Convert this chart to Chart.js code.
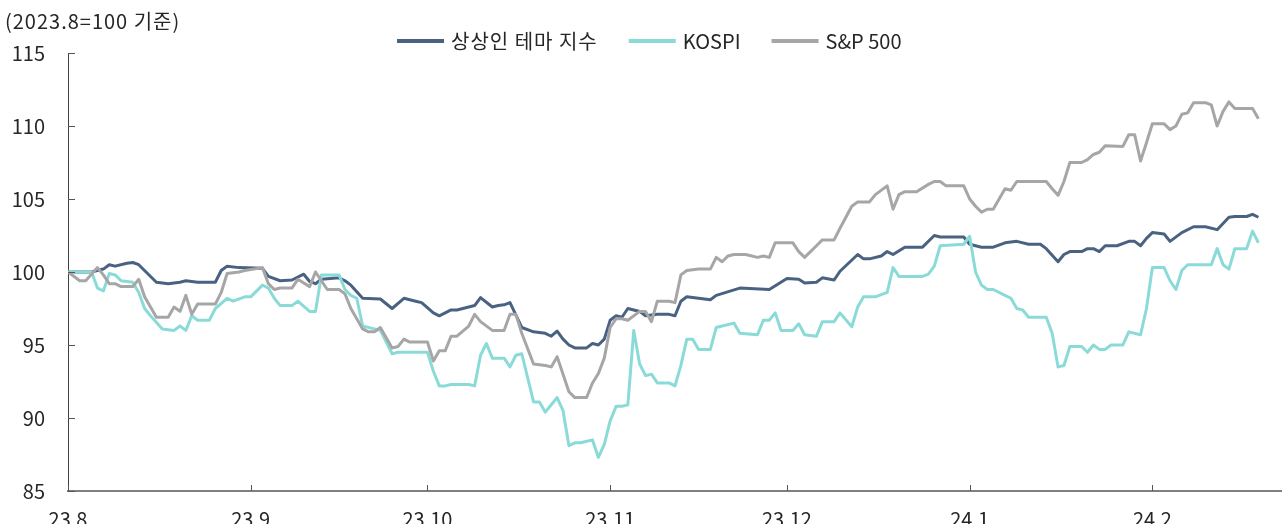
<!DOCTYPE html>
<html>
<head>
<meta charset="utf-8">
<script src="https://cdn.jsdelivr.net/npm/chart.js@4.4.1/dist/chart.umd.min.js"></script>
<style>
  html, body { margin: 0; padding: 0; background: #fff; }
</style>
</head>
<body>
<canvas id="chart" width="1282" height="526"></canvas>
<script>
const FONT = "'Noto Sans CJK KR', 'Noto Sans', sans-serif";

// x = days since 2023-08-01
const monthDays = [0, 31, 61, 92, 122, 153, 184];
const monthLabels = ["23.8", "23.9", "23.10", "23.11", "23.12", "24.1", "24.2"];
const yTicks = [85, 90, 95, 100, 105, 110, 115];

const themeDays = [0,4,6,7,8,10,11,12,15,17,19,20,22,25,26,27,29,33,34,36,38,40,41,42,43,46,47,48,50,53,55,57,59,60,62,63,64,65,66,68,69,70,72,73,74,75,77,79,81,82,83,84,85,86,88,89,90,91,92,93,94,95,97,98,100,102,103,104,105,109,110,114,119,122,124,125,127,128,130,131,134,135,136,138,139,140,142,145,147,148,152,153,155,157,159,161,163,165,166,168,169,170,172,173,174,175,176,178,180,181,182,183,184,186,187,189,191,193,195,197,198,200,201,202];
const themeVals = [100.0,100.0,100.2,100.5,100.4,100.6,100.65,100.5,99.3,99.2,99.3,99.4,99.3,99.3,100.1,100.4,100.3,100.25,99.7,99.4,99.45,99.85,99.35,99.2,99.5,99.6,99.4,99.1,98.2,98.15,97.5,98.2,98.0,97.9,97.2,97.0,97.2,97.4,97.4,97.6,97.7,98.25,97.6,97.7,97.75,97.9,96.2,95.9,95.8,95.6,95.95,95.4,95.0,94.8,94.8,95.1,95.0,95.4,96.7,97.0,96.9,97.5,97.3,97.0,97.1,97.1,97.0,98.0,98.3,98.1,98.4,98.9,98.8,99.55,99.5,99.25,99.3,99.6,99.45,100.05,101.2,100.9,100.9,101.1,101.4,101.2,101.7,101.7,102.5,102.4,102.4,101.9,101.7,101.7,102.0,102.1,101.9,101.9,101.6,100.7,101.2,101.4,101.4,101.6,101.6,101.4,101.8,101.8,102.1,102.1,101.8,102.3,102.7,102.6,102.1,102.7,103.1,103.1,102.9,103.75,103.8,103.8,103.95,103.75];

const kospiDays = [0,4,5,6,7,8,9,11,12,13,14,16,18,19,20,21,22,24,25,27,28,30,31,33,34,35,36,38,39,41,42,43,46,47,48,49,50,53,55,56,61,62,63,64,65,68,69,70,71,72,74,75,76,77,79,80,81,83,84,85,86,87,89,90,91,92,93,94,95,96,97,98,99,100,102,103,104,105,106,107,109,110,111,113,114,117,118,119,120,121,123,124,125,127,128,130,131,133,134,135,137,139,140,141,145,146,147,148,152,153,154,155,156,157,159,160,161,162,163,166,167,168,169,170,172,173,174,175,176,177,179,180,182,183,184,186,187,188,189,190,194,195,196,197,198,200,201,202];
const kospiVals = [100.0,100.0,98.9,98.7,99.9,99.8,99.4,99.3,98.6,97.5,97.0,96.1,96.0,96.3,96.0,97.0,96.7,96.7,97.5,98.2,98.0,98.3,98.3,99.1,98.9,98.2,97.7,97.7,98.0,97.3,97.3,99.8,99.8,98.8,98.4,98.2,96.3,96.0,94.4,94.5,94.5,93.2,92.2,92.2,92.3,92.3,92.2,94.3,95.1,94.1,94.1,93.5,94.3,94.4,91.1,91.1,90.4,91.4,90.5,88.1,88.3,88.3,88.5,87.3,88.2,89.8,90.8,90.8,90.9,96.0,93.7,92.9,93.0,92.4,92.4,92.2,93.6,95.4,95.4,94.7,94.7,96.2,96.3,96.5,95.8,95.7,96.7,96.7,97.2,96.0,96.0,96.45,95.7,95.6,96.6,96.6,97.2,96.25,97.6,98.3,98.3,98.6,100.3,99.7,99.7,99.85,100.4,101.8,101.9,102.45,100.0,99.1,98.8,98.8,98.4,98.2,97.5,97.4,96.9,96.9,95.8,93.5,93.6,94.9,94.9,94.5,95.0,94.7,94.7,95.0,95.0,95.9,95.7,97.5,100.3,100.3,99.4,98.8,100.1,100.5,100.5,101.6,100.5,100.2,101.6,101.6,102.8,102.0];

const spxDays = [0,2,3,5,6,7,8,9,11,12,13,15,17,18,19,20,21,22,25,26,27,29,30,33,34,35,36,38,39,41,42,44,46,47,48,50,51,52,53,55,56,57,58,61,62,63,64,65,66,68,69,70,72,74,75,76,77,79,81,82,83,85,86,88,89,90,91,92,93,94,95,97,98,99,100,102,103,104,105,107,109,110,111,112,113,115,117,118,119,120,123,124,125,127,128,130,131,133,134,136,137,139,140,141,142,144,146,147,148,149,152,153,154,155,156,157,159,160,161,166,167,168,169,170,172,173,174,175,176,179,180,181,182,183,184,186,187,188,189,190,191,193,194,195,196,197,198,201,202];
const spxVals = [100.0,99.4,99.4,100.3,99.8,99.2,99.2,99.0,99.0,99.5,98.3,96.9,96.9,97.6,97.3,98.4,97.1,97.8,97.8,98.6,99.9,100.0,100.1,100.3,99.2,98.8,98.9,98.9,99.5,99.0,100.0,98.8,98.8,98.5,97.5,96.1,95.9,95.9,96.2,94.8,94.9,95.4,95.2,95.2,93.9,94.6,94.6,95.6,95.6,96.3,97.1,96.6,96.0,96.0,97.1,97.1,95.8,93.7,93.6,93.5,94.2,91.8,91.4,91.4,92.4,93.05,94.1,96.2,96.8,96.8,96.7,97.3,97.3,96.6,98.0,98.0,97.9,99.8,100.1,100.2,100.2,101.0,100.7,101.1,101.2,101.2,101.0,101.1,101.0,102.0,102.0,101.4,101.0,101.8,102.2,102.2,103.0,104.5,104.8,104.8,105.3,105.9,104.3,105.3,105.5,105.5,106.0,106.2,106.2,105.9,105.9,105.0,104.5,104.1,104.3,104.3,105.7,105.6,106.2,106.2,105.7,105.25,106.2,107.5,107.5,107.7,108.05,108.2,108.65,108.6,109.4,109.4,107.6,108.85,110.15,110.15,109.75,110.0,110.8,110.9,111.6,111.6,111.45,110.0,111.0,111.65,111.2,111.2,110.5];

function toPoints(days, vals) {
  return days.map((d, i) => ({ x: d, y: vals[i] }));
}

// inward tick marks, note text and legend
const decor = {
  id: "decor",
  afterDraw(chart) {
    const ctx = chart.ctx;
    const xs = chart.scales.x, ys = chart.scales.y;
    const area = chart.chartArea;
    ctx.save();
    ctx.strokeStyle = "#555";
    ctx.lineWidth = 1;
    monthDays.forEach(d => {
      const px = Math.round(xs.getPixelForValue(d)) + 0.5;
      ctx.beginPath();
      ctx.moveTo(px, area.bottom);
      ctx.lineTo(px, area.bottom - 6);
      ctx.stroke();
    });
    yTicks.forEach(v => {
      const py = Math.round(ys.getPixelForValue(v)) + 0.5;
      ctx.beginPath();
      ctx.moveTo(area.left, py);
      ctx.lineTo(area.left + 7, py);
      ctx.stroke();
    });

    ctx.fillStyle = "#262626";
    ctx.font = "20px " + FONT;
    ctx.textBaseline = "middle";
    ctx.textAlign = "left";
    ctx.letterSpacing = "1px";
    ctx.fillText("(2023.8=100 기준)", 5, 21);

    // legend
    const sw = 47, gapText = 7, gapItem = 31;
    let x = 397;
    const y = 41;
    chart.data.datasets.forEach((ds, i) => {
      ctx.letterSpacing = i === 0 ? "1px" : "0px";
      ctx.fillStyle = ds.borderColor;
      ctx.fillRect(x, y - 2, sw, 4);
      x += sw + gapText;
      ctx.fillStyle = "#262626";
      ctx.fillText(ds.label, x, y);
      x += ctx.measureText(ds.label).width + gapItem;
    });
    ctx.restore();
  }
};

new Chart(document.getElementById("chart"), {
  type: "line",
  data: {
    datasets: [
      { label: "상상인 테마 지수", data: toPoints(themeDays, themeVals), borderColor: "#4a6282", order: 2 },
      { label: "KOSPI", data: toPoints(kospiDays, kospiVals), borderColor: "#8adbd8", order: 1 },
      { label: "S&P 500", data: toPoints(spxDays, spxVals), borderColor: "#a6a6a6", order: 0 }
    ]
  },
  options: {
    responsive: false,
    animation: false,
    layout: { padding: { top: 53, right: 0, left: 0, bottom: 0 } },
    elements: {
      point: { radius: 0 },
      line: { borderWidth: 3, tension: 0, borderJoinStyle: "round" }
    },
    plugins: {
      legend: { display: false },
      tooltip: { enabled: false }
    },
    scales: {
      x: {
        type: "linear",
        min: 0,
        max: 206,
        grid: { display: false, drawTicks: false },
        border: { color: "#808080", width: 2 },
        afterBuildTicks: s => { s.ticks = monthDays.map(v => ({ value: v })); },
        afterFit: s => { s.height = 33; },
        ticks: {
          padding: 16,
          autoSkip: false,
          maxRotation: 0,
          color: "#262626",
          font: { family: FONT, size: 20 },
          callback: v => monthLabels[monthDays.indexOf(v)]
        }
      },
      y: {
        min: 85,
        max: 115,
        grid: { display: false, drawTicks: false },
        border: { color: "#404040", width: 1 },
        afterBuildTicks: s => { s.ticks = yTicks.map(v => ({ value: v })); },
        afterFit: s => { s.width = 68; },
        ticks: {
          padding: 23,
          color: "#262626",
          font: { family: FONT, size: 20 }
        }
      }
    }
  },
  plugins: [decor]
});
</script>
</body>
</html>
